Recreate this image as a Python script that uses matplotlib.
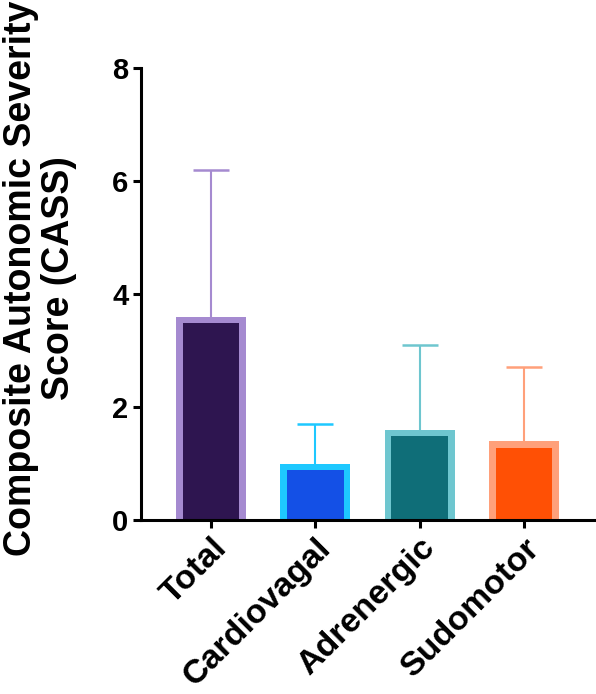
import matplotlib
matplotlib.use("Agg")
import matplotlib.pyplot as plt
from matplotlib.transforms import ScaledTranslation

plt.rcParams['font.family'] = ['Liberation Sans', 'DejaVu Sans']
plt.rcParams['font.weight'] = 'bold'

categories = ['Total', 'Cardiovagal', 'Adrenergic', 'Sudomotor']
means = [3.6, 1.0, 1.6, 1.4]
sd_upper = [2.6, 0.7, 1.5, 1.3]
fill_colors = ['#2E1550', '#1450E6', '#0F6E78', '#FF5005']
edge_colors = ['#A58AD0', '#1EC8FF', '#6EC6CF', '#FFA07A']
yticks = [0, 2, 4, 6, 8]

bar_w = 0.671      # outer width of a bar, in category units
border_x = 0.064   # border thickness, category units
border_y = 0.119   # border thickness, y units

fig = plt.figure(figsize=(5.96, 6.94), dpi=100)
ax = fig.add_axes([0.2366, 0.2507, 0.7634, 0.6513])

x = list(range(len(categories)))
# outer bar in the border colour, inner bar in the fill colour
ax.bar(x, means, width=bar_w, color=edge_colors, linewidth=0, zorder=3)
ax.bar(x, [m - border_y for m in means], width=bar_w - 2 * border_x,
       color=fill_colors, linewidth=0, zorder=3)
for i in x:
    eb = ax.errorbar(x[i], means[i], yerr=[[0], [sd_upper[i]]], fmt='none',
                     ecolor=edge_colors[i], elinewidth=1.5, capsize=13,
                     capthick=1.8, zorder=2)
    eb[1][0].set_visible(False)  # no cap at the bar top

ax.set_xlim(-0.67, 3.69)
ax.set_ylim(0, 8)
ax.set_yticks(yticks)
ax.set_xticks(x)
ax.set_xticklabels(categories, rotation=45, ha='right', rotation_mode='anchor',
                   fontsize=24.5)
shift = ScaledTranslation(3 / 72, 4 / 72, fig.dpi_scale_trans)
for lab in ax.get_xticklabels():
    lab.set_transform(lab.get_transform() + shift)

for s in ['top', 'right']:
    ax.spines[s].set_visible(False)
for s in ['left', 'bottom']:
    ax.spines[s].set_linewidth(2.2)
    ax.spines[s].set_zorder(4)
ax.tick_params(axis='both', width=2.2, length=6, pad=3)
ax.tick_params(axis='y', labelsize=21)

ax.set_ylabel('Composite Autonomic Severity\nScore (CASS)', fontsize=27,
              fontweight='bold', linespacing=1.1)
ax.yaxis.set_label_coords(-0.14, 0.535)

fig.savefig('out.png', dpi=100)
